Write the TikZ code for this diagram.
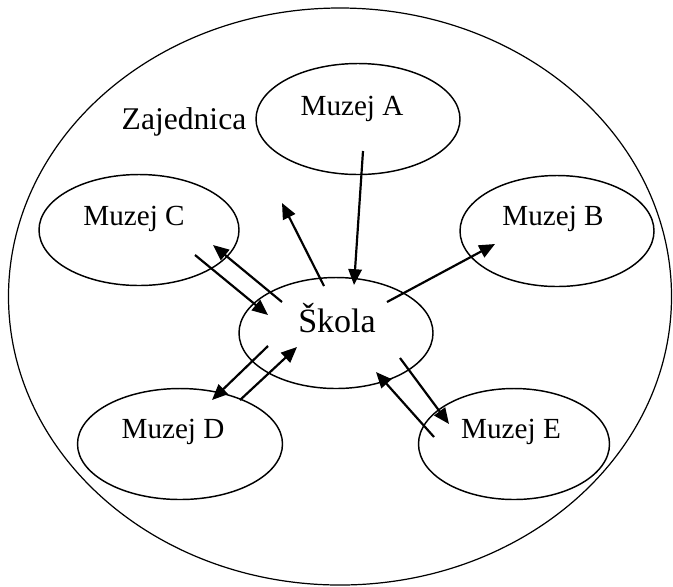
\documentclass[tikz,border=0pt]{standalone}
\usepackage{fontspec}
\setmainfont{Liberation Serif}
\usetikzlibrary{shapes.geometric,arrows.meta}

\newcommand\pxu{0.4115pt}

\tikzset{
  muzej/.style={draw, ellipse, line width=0.6pt, inner sep=0pt, minimum height=111*\pxu},
  naziv/.style={anchor=base, inner sep=0pt, font=\fontsize{12}{14}\selectfont},
  strelica/.style={-{Triangle[length=6.5pt,width=5.5pt]}, line width=0.9pt}
}

\begin{document}
\begin{tikzpicture}[x=\pxu, y=-\pxu]
\useasboundingbox (0,0) rectangle (673,586);
                \node[draw, ellipse, line width=0.5pt, inner sep=0pt, minimum width=663*\pxu, minimum height=577*\pxu] (zaj) at (340,296.5) {};
                \node[naziv, font=\fontsize{13}{15}\selectfont] (tZaj) at (184,129) {Zajednica};

                \node[muzej, minimum width=204*\pxu] (muzA) at (358,119) {};
                \node[muzej, minimum width=200*\pxu] (muzC) at (139,230) {};
                \node[muzej, minimum width=194*\pxu] (muzB) at (557,231) {};
                \node[muzej, minimum width=194*\pxu] (skola) at (336,333) {};
                \node[muzej, minimum width=205*\pxu] (muzD) at (180,444) {};
                \node[muzej, minimum width=191*\pxu] (muzE) at (514,444) {};

                \node[naziv] (tA) at (352,115) {Muzej A};
                \node[naziv] (tC) at (134,225) {Muzej C};
                \node[naziv] (tB) at (553,225) {Muzej B};
                \node[naziv, font=\fontsize{14}{16}\selectfont] (tSkola) at (337,332) {Škola};
                \node[naziv] (tD) at (173,438) {Muzej D};
                \node[naziv] (tE) at (511,438) {Muzej E};

                \coordinate (p1) at (363,151); \coordinate (k1) at (354,285);
                \coordinate (p2) at (324,286); \coordinate (k2) at (282,203);
                \coordinate (p3) at (387,302); \coordinate (k3) at (495,244);
                \coordinate (p4) at (282,302); \coordinate (k4) at (213,245);
                \coordinate (p5) at (195,255); \coordinate (k5) at (268,315);
                \coordinate (p6) at (268,346); \coordinate (k6) at (212,400);
                \coordinate (p7) at (240,400); \coordinate (k7) at (297,347);
                \coordinate (p8) at (400,358); \coordinate (k8) at (449,424);
                \coordinate (p9) at (434,437); \coordinate (k9) at (376,372);

                \draw[strelica] (p1) -- (k1);
                \draw[strelica] (p2) -- (k2);
                \draw[strelica] (p3) -- (k3);
                \draw[strelica] (p4) -- (k4);
                \draw[strelica] (p5) -- (k5);
                \draw[strelica] (p6) -- (k6);
                \draw[strelica] (p7) -- (k7);
                \draw[strelica] (p8) -- (k8);
                \draw[strelica] (p9) -- (k9);
\end{tikzpicture}
\end{document}
